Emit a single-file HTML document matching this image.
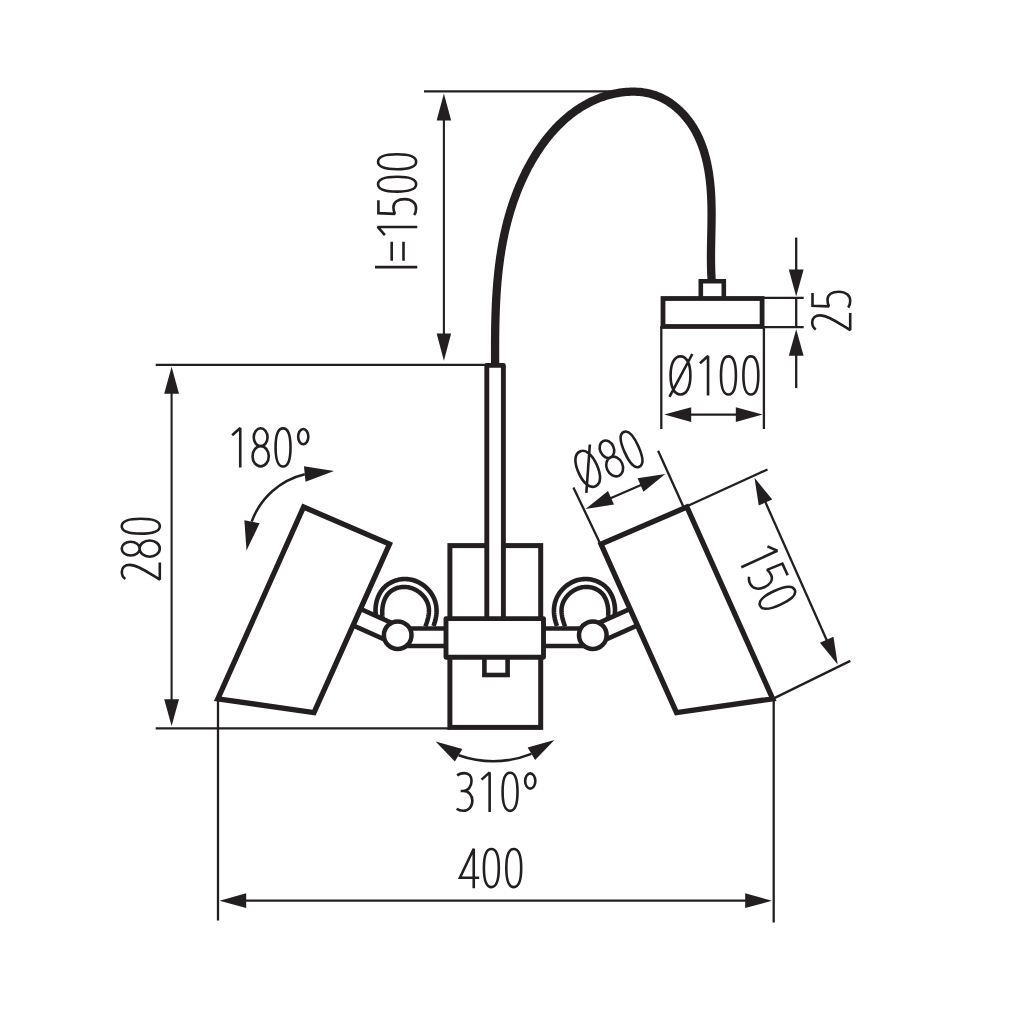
<!DOCTYPE html>
<html><head><meta charset="utf-8"><style>html,body{margin:0;padding:0;background:#fff;width:1010px;height:1010px;overflow:hidden}svg{display:block}</style></head>
<body><svg width="1010" height="1010" viewBox="0 0 1010 1010"><g stroke="#231f20" fill="none"><line x1="424" y1="91.4" x2="612" y2="91.4" stroke-width="2.3" stroke-linecap="butt"/><line x1="443.9" y1="100" x2="443.9" y2="355" stroke-width="2.1" stroke-linecap="butt"/><path d="M443.9 93.4L451.15 120.6L436.65 120.6Z" fill="#231f20" stroke="none"/><path d="M443.9 360.8L436.65 333.6L451.15 333.6Z" fill="#231f20" stroke="none"/><g transform="translate(417.3 271.55) rotate(-90)" fill="none" stroke-width="2.6" stroke-linejoin="miter" stroke-miterlimit="2"><path transform="translate(0 0)" d="M4.45 0L4.45 -42.3"/><path transform="translate(9 0)" d="M1.85 -25.6L20.85 -25.6M1.85 -13.8L20.85 -13.8"/><path transform="translate(31.4 0)" d="M5.1 -32.4L13.2 -39.6L13.2 0"/><path transform="translate(53.8 0)" d="M17.4 -38.9L4.6 -38.9L3.9 -22.4C5.8 -23.4 8 -23.9 10.4 -23.9C15.6 -23.9 18.6 -19.3 18.6 -12.6C18.6 -5.5 14.6 -1.2 9.6 -1.2C6.8 -1.2 4.3 -2 2.7 -3.2"/><path transform="translate(76.2 0)" d="M3.75 -20.2C3.75 -32.39 6.43 -39.25 11.2 -39.25C15.97 -39.25 18.65 -32.39 18.65 -20.2C18.65 -8.01 15.97 -1.15 11.2 -1.15C6.43 -1.15 3.75 -8.01 3.75 -20.2Z"/><path transform="translate(98.6 0)" d="M3.75 -20.2C3.75 -32.39 6.43 -39.25 11.2 -39.25C15.97 -39.25 18.65 -32.39 18.65 -20.2C18.65 -8.01 15.97 -1.15 11.2 -1.15C6.43 -1.15 3.75 -8.01 3.75 -20.2Z"/></g><line x1="155.7" y1="364.8" x2="488" y2="364.8" stroke-width="2.3" stroke-linecap="butt"/><line x1="155.7" y1="728.4" x2="450" y2="728.4" stroke-width="2.3" stroke-linecap="butt"/><line x1="171.6" y1="380" x2="171.6" y2="712" stroke-width="2.1" stroke-linecap="butt"/><path d="M171.6 366.7L179 393.8L164.2 393.8Z" fill="#231f20" stroke="none"/><path d="M171.6 726L164.2 699.3L179 699.3Z" fill="#231f20" stroke="none"/><g transform="translate(161 582.2) rotate(-90)" fill="none" stroke-width="2.6" stroke-linejoin="miter" stroke-miterlimit="2"><path transform="translate(0 0)" d="M3.2 -35.6C4.6 -37.9 7.3 -39.2 10.4 -39.2C14.7 -39.2 17.3 -36 17.3 -31.4C17.3 -24 11.5 -16 2.6 -1.2L19.8 -1.2"/><path transform="translate(22.4 0)" d="M4.3 -30.3C4.3 -35.27 7.39 -39.3 11.2 -39.3C15.01 -39.3 18.1 -35.27 18.1 -30.3C18.1 -25.33 15.01 -21.3 11.2 -21.3C7.39 -21.3 4.3 -25.33 4.3 -30.3ZM3.1 -11.35C3.1 -16.96 6.73 -21.5 11.2 -21.5C15.67 -21.5 19.3 -16.96 19.3 -11.35C19.3 -5.74 15.67 -1.2 11.2 -1.2C6.73 -1.2 3.1 -5.74 3.1 -11.35Z"/><path transform="translate(44.8 0)" d="M3.75 -20.2C3.75 -32.39 6.43 -39.25 11.2 -39.25C15.97 -39.25 18.65 -32.39 18.65 -20.2C18.65 -8.01 15.97 -1.15 11.2 -1.15C6.43 -1.15 3.75 -8.01 3.75 -20.2Z"/></g><line x1="218" y1="699" x2="218" y2="920.5" stroke-width="2.3" stroke-linecap="butt"/><line x1="773.7" y1="699" x2="773.7" y2="922.5" stroke-width="2.3" stroke-linecap="butt"/><line x1="235" y1="900.7" x2="757" y2="900.7" stroke-width="2.3" stroke-linecap="butt"/><path d="M219.5 900.7L246.2 893.3L246.2 908.1Z" fill="#231f20" stroke="none"/><path d="M771.9 900.7L745.2 908.1L745.2 893.3Z" fill="#231f20" stroke="none"/><g transform="translate(457.75 888.3)" fill="none" stroke-width="2.6" stroke-linejoin="miter" stroke-miterlimit="2"><path transform="translate(0 0)" d="M16 0L16 -39.6L2.2 -10.5L21.4 -10.5"/><path transform="translate(22.4 0)" d="M3.75 -20.2C3.75 -32.39 6.43 -39.25 11.2 -39.25C15.97 -39.25 18.65 -32.39 18.65 -20.2C18.65 -8.01 15.97 -1.15 11.2 -1.15C6.43 -1.15 3.75 -8.01 3.75 -20.2Z"/><path transform="translate(44.8 0)" d="M3.75 -20.2C3.75 -32.39 6.43 -39.25 11.2 -39.25C15.97 -39.25 18.65 -32.39 18.65 -20.2C18.65 -8.01 15.97 -1.15 11.2 -1.15C6.43 -1.15 3.75 -8.01 3.75 -20.2Z"/></g><path d="M495.14 367.09L495.13 364.87L495.12 362.65L495.10 360.43L495.10 358.21L495.09 355.99L495.08 353.77L495.08 351.55L495.08 349.33L495.08 347.11L495.08 344.89L495.09 342.67L495.10 340.45L495.12 338.23L495.14 336.00L495.16 333.78L495.18 331.56L495.22 329.34L495.25 327.12L495.29 324.91L495.34 322.69L495.39 320.47L495.45 318.25L495.51 316.04L495.58 313.82L495.66 311.61L495.74 309.39L495.83 307.18L495.93 304.97L496.03 302.76L496.14 300.55L496.26 298.34L496.39 296.13L496.53 293.92L496.67 291.72L496.82 289.52L496.98 287.32L497.16 285.12L497.34 282.92L497.53 280.72L497.73 278.53L497.94 276.33L498.16 274.14L498.39 271.95L498.63 269.77L498.89 267.58L499.15 265.40L499.43 263.22L499.72 261.04L500.02 258.86L500.33 256.69L500.66 254.52L500.99 252.35L501.35 250.18L501.71 248.02L502.09 245.86L502.48 243.70L502.88 241.54L503.30 239.39L503.74 237.24L504.19 235.10L504.65 232.95L505.13 230.81L505.62 228.67L506.13 226.54L506.66 224.41L507.20 222.28L507.76 220.16L508.33 218.04L508.92 215.92L509.53 213.81L510.15 211.70L510.80 209.59L511.46 207.49L512.14 205.39L512.83 203.30L513.55 201.21L514.28 199.12L515.03 197.04L515.80 194.96L516.59 192.88L517.40 190.81L518.23 188.75L519.08 186.69L519.96 184.63L520.85 182.58L521.76 180.53L522.69 178.49L523.64 176.46L524.61 174.43L525.61 172.41L526.62 170.40L527.66 168.40L528.71 166.41L529.79 164.44L530.89 162.47L532.01 160.51L533.15 158.57L534.31 156.64L535.49 154.73L536.69 152.83L537.91 150.94L539.16 149.08L540.42 147.23L541.71 145.39L543.02 143.58L544.35 141.78L545.70 140.01L547.07 138.25L548.46 136.52L549.88 134.81L551.31 133.12L552.77 131.45L554.25 129.81L555.75 128.19L557.27 126.59L558.82 125.03L560.38 123.49L561.97 121.97L563.58 120.49L565.21 119.03L566.86 117.60L568.54 116.21L570.23 114.84L571.95 113.50L573.69 112.20L575.46 110.93L577.24 109.69L579.05 108.49L580.88 107.32L582.73 106.19L584.60 105.09L586.50 104.03L588.41 103.01L590.35 102.03L592.32 101.08L594.30 100.18L596.31 99.31L598.34 98.49L600.39 97.71L602.46 96.97L604.56 96.27L606.68 95.62L608.82 95.01L610.98 94.45L613.15 93.93L615.34 93.47L617.54 93.05L619.75 92.69L621.96 92.38L624.18 92.13L626.40 91.93L628.63 91.79L630.85 91.70L633.07 91.68L635.28 91.72L637.49 91.82L639.68 91.98L641.86 92.21L644.03 92.50L646.18 92.87L648.32 93.30L650.43 93.80L652.52 94.38L654.58 95.03L656.61 95.75L658.62 96.54L660.60 97.41L662.55 98.34L664.46 99.35L666.35 100.41L668.20 101.54L670.02 102.74L671.80 103.99L673.55 105.29L675.26 106.65L676.94 108.07L678.58 109.54L680.18 111.05L681.74 112.61L683.26 114.22L684.73 115.87L686.17 117.56L687.57 119.29L688.92 121.05L690.22 122.85L691.49 124.69L692.70 126.55L693.87 128.44L694.99 130.36L696.07 132.31L697.09 134.28L698.08 136.27L699.02 138.28L699.91 140.32L700.76 142.37L701.57 144.45L702.35 146.54L703.08 148.64L703.77 150.77L704.43 152.91L705.05 155.06L705.63 157.22L706.18 159.39L706.69 161.58L707.18 163.77L707.63 165.97L708.05 168.18L708.44 170.39L708.81 172.61L709.14 174.83L709.45 177.06L709.73 179.28L709.99 181.51L710.23 183.73L710.44 185.95L710.63 188.18L710.80 190.39L710.95 192.61L711.08 194.82L711.20 197.03L711.29 199.24L711.37 201.45L711.44 203.66L711.49 205.86L711.53 208.07L711.55 210.27L711.57 212.47L711.57 214.67L711.57 216.87L711.56 219.07L711.54 221.26L711.51 223.46L711.48 225.66L711.44 227.85L711.40 230.05L711.36 232.24L711.31 234.44L711.27 236.63L711.22 238.83L711.18 241.02L711.13 243.22L711.10 245.41L711.06 247.61L711.03 249.81L711.01 252.01L710.99 254.21L710.98 256.41L710.98 258.61L710.99 260.81L711.01 263.01L711.05 265.22L711.09 267.43L711.15 269.63L711.22 271.85L711.31 274.06L711.42 276.27L711.54 278.49L711.68 280.71L711.84 282.93" stroke-width="8.3" stroke-linecap="butt" stroke-linejoin="round"/><path d="M700.8 298.5V281.3H723.8V298.5" stroke-width="4.6" fill="#fff"/><rect x="663" y="298.5" width="99.1" height="28" stroke-width="4.8" fill="#fff"/><line x1="661.3" y1="326" x2="661.3" y2="429" stroke-width="2.3" stroke-linecap="butt"/><line x1="763.9" y1="326" x2="763.9" y2="429" stroke-width="2.3" stroke-linecap="butt"/><line x1="680" y1="414.6" x2="746" y2="414.6" stroke-width="2.3" stroke-linecap="butt"/><path d="M664.2 414.6L691.2 407.2L691.2 422Z" fill="#231f20" stroke="none"/><path d="M762.6 414.6L735.8 422L735.8 407.2Z" fill="#231f20" stroke="none"/><g transform="translate(668.85 395.6)" fill="none" stroke-width="2.6" stroke-linejoin="miter" stroke-miterlimit="2"><path transform="translate(0 0)" d="M1.75 -20.2C1.75 -32.01 5.51 -39.25 11.65 -39.25C17.79 -39.25 21.55 -32.01 21.55 -20.2C21.55 -8.39 17.79 -1.15 11.65 -1.15C5.51 -1.15 1.75 -8.39 1.75 -20.2ZM0.6 1.2L23.5 -41.6"/><path transform="translate(26 0)" d="M5.1 -32.4L13.2 -39.6L13.2 0"/><path transform="translate(48.4 0)" d="M3.75 -20.2C3.75 -32.39 6.43 -39.25 11.2 -39.25C15.97 -39.25 18.65 -32.39 18.65 -20.2C18.65 -8.01 15.97 -1.15 11.2 -1.15C6.43 -1.15 3.75 -8.01 3.75 -20.2Z"/><path transform="translate(70.8 0)" d="M3.75 -20.2C3.75 -32.39 6.43 -39.25 11.2 -39.25C15.97 -39.25 18.65 -32.39 18.65 -20.2C18.65 -8.01 15.97 -1.15 11.2 -1.15C6.43 -1.15 3.75 -8.01 3.75 -20.2Z"/></g><line x1="762" y1="297.8" x2="803.7" y2="297.8" stroke-width="2.3" stroke-linecap="butt"/><line x1="762" y1="327.2" x2="803.7" y2="327.2" stroke-width="2.3" stroke-linecap="butt"/><line x1="796.2" y1="237.6" x2="796.2" y2="280" stroke-width="2.3" stroke-linecap="butt"/><line x1="796.2" y1="340" x2="796.2" y2="388.1" stroke-width="2.3" stroke-linecap="butt"/><line x1="796.2" y1="297" x2="796.2" y2="328" stroke-width="2.3" stroke-linecap="butt"/><path d="M796.2 296.4L788.8 269.5L803.6 269.5Z" fill="#231f20" stroke="none"/><path d="M796.2 329.2L803.6 355.8L788.8 355.8Z" fill="#231f20" stroke="none"/><g transform="translate(851.4 332.7) rotate(-90)" fill="none" stroke-width="2.6" stroke-linejoin="miter" stroke-miterlimit="2"><path transform="translate(0 0)" d="M3.2 -35.6C4.6 -37.9 7.3 -39.2 10.4 -39.2C14.7 -39.2 17.3 -36 17.3 -31.4C17.3 -24 11.5 -16 2.6 -1.2L19.8 -1.2"/><path transform="translate(22.4 0)" d="M17.4 -38.9L4.6 -38.9L3.9 -22.4C5.8 -23.4 8 -23.9 10.4 -23.9C15.6 -23.9 18.6 -19.3 18.6 -12.6C18.6 -5.5 14.6 -1.2 9.6 -1.2C6.8 -1.2 4.3 -2 2.7 -3.2"/></g><rect x="449.9" y="545.6" width="90.8" height="181.8" stroke-width="5" fill="#fff"/><rect x="486.8" y="365.4" width="16.6" height="255" stroke-width="4.9" fill="#fff" stroke-linejoin="round"/></g><g stroke="#231f20" fill="none"><path d="M375.89 615.84L375.70 614.34L375.57 612.82L375.51 611.30L375.50 609.76L375.57 608.22L375.69 606.68L375.88 605.15L376.13 603.63L376.45 602.12L376.82 600.63L377.27 599.15L377.77 597.71L378.34 596.30L378.97 594.92L379.66 593.58L380.41 592.28L381.23 591.03L382.11 589.83L383.05 588.69L384.06 587.61L385.12 586.58L386.24 585.62L387.40 584.72L388.62 583.89L389.88 583.11L391.17 582.41L392.50 581.76L393.87 581.19L395.26 580.68L396.68 580.23L398.12 579.86L399.58 579.55L401.05 579.32L402.53 579.16L404.01 579.06L405.50 579.04L406.99 579.10L408.47 579.23L409.95 579.43L411.41 579.71L412.86 580.07L414.29 580.50L415.69 581.00L417.08 581.57L418.43 582.20L419.76 582.90L421.06 583.67L422.32 584.49L423.55 585.37L424.74 586.30L425.88 587.29L426.99 588.32L428.04 589.40L429.04 590.53L430.00 591.70L430.89 592.91L431.73 594.15L432.51 595.43L433.23 596.75L433.88 598.09L434.46 599.46L434.97 600.86L435.41 602.27L435.78 603.71L436.07 605.17L436.29 606.64L436.44 608.13L436.52 609.62L436.54 611.12L436.49 612.63L436.38 614.14L436.21 615.65L435.98 617.15L435.69 618.66L435.35 620.15L434.96 621.63L434.51 623.10L434.02 624.56L433.47 626.00" stroke-width="4.6" stroke-linejoin="round"/><path d="M382.75 618.83L382.57 617.66L382.42 616.45L382.31 615.22L382.24 613.97L382.21 612.70L382.23 611.42L382.28 610.13L382.38 608.84L382.53 607.55L382.72 606.27L382.96 604.99L383.24 603.73L383.58 602.49L383.96 601.27L384.40 600.08L384.89 598.92L385.44 597.79L386.03 596.71L386.69 595.67L387.40 594.68L388.17 593.75L389.00 592.87L389.89 592.05L390.82 591.29L391.80 590.59L392.83 589.95L393.89 589.37L394.99 588.85L396.12 588.39L397.27 587.99L398.45 587.66L399.65 587.39L400.87 587.18L402.10 587.04L403.34 586.96L404.58 586.95L405.83 587.00L407.07 587.12L408.30 587.31L409.53 587.56L410.74 587.88L411.93 588.26L413.11 588.70L414.27 589.20L415.40 589.76L416.51 590.37L417.59 591.03L418.63 591.74L419.65 592.50L420.62 593.30L421.55 594.14L422.45 595.03L423.29 595.95L424.09 596.91L424.84 597.90L425.53 598.93L426.17 599.99L426.75 601.07L427.27 602.18L427.72 603.31L428.10 604.47L428.42 605.64L428.66 606.83L428.83 608.03L428.94 609.25L428.97 610.48L428.95 611.71L428.87 612.96L428.74 614.20L428.57 615.45L428.34 616.70L428.08 617.95L427.78 619.20L427.44 620.44L427.08 621.67L426.69 622.89L426.28 624.10L425.86 625.30L425.42 626.48" stroke-width="4.5" stroke-linejoin="round"/><line x1="360.4" y1="608.93" x2="397.7" y2="625.64" stroke-width="4.8"/><line x1="353.04" y1="625.36" x2="397.7" y2="645.36" stroke-width="4.8"/><line x1="397.7" y1="628.4" x2="447" y2="628.4" stroke-width="4.5"/><line x1="397.7" y1="646" x2="447" y2="646" stroke-width="4.5"/><circle cx="397.7" cy="635.2" r="13.8" stroke-width="4.5" fill="#fff"/><path d="M303.6 507L389.5 544L314 712.5L217.8 698.8Z" stroke-width="5.3" stroke-linejoin="miter" fill="none"/></g><g stroke="#231f20" fill="none" transform="translate(990.5 0) scale(-1 1)"><path d="M375.89 615.84L375.70 614.34L375.57 612.82L375.51 611.30L375.50 609.76L375.57 608.22L375.69 606.68L375.88 605.15L376.13 603.63L376.45 602.12L376.82 600.63L377.27 599.15L377.77 597.71L378.34 596.30L378.97 594.92L379.66 593.58L380.41 592.28L381.23 591.03L382.11 589.83L383.05 588.69L384.06 587.61L385.12 586.58L386.24 585.62L387.40 584.72L388.62 583.89L389.88 583.11L391.17 582.41L392.50 581.76L393.87 581.19L395.26 580.68L396.68 580.23L398.12 579.86L399.58 579.55L401.05 579.32L402.53 579.16L404.01 579.06L405.50 579.04L406.99 579.10L408.47 579.23L409.95 579.43L411.41 579.71L412.86 580.07L414.29 580.50L415.69 581.00L417.08 581.57L418.43 582.20L419.76 582.90L421.06 583.67L422.32 584.49L423.55 585.37L424.74 586.30L425.88 587.29L426.99 588.32L428.04 589.40L429.04 590.53L430.00 591.70L430.89 592.91L431.73 594.15L432.51 595.43L433.23 596.75L433.88 598.09L434.46 599.46L434.97 600.86L435.41 602.27L435.78 603.71L436.07 605.17L436.29 606.64L436.44 608.13L436.52 609.62L436.54 611.12L436.49 612.63L436.38 614.14L436.21 615.65L435.98 617.15L435.69 618.66L435.35 620.15L434.96 621.63L434.51 623.10L434.02 624.56L433.47 626.00" stroke-width="4.6" stroke-linejoin="round"/><path d="M382.75 618.83L382.57 617.66L382.42 616.45L382.31 615.22L382.24 613.97L382.21 612.70L382.23 611.42L382.28 610.13L382.38 608.84L382.53 607.55L382.72 606.27L382.96 604.99L383.24 603.73L383.58 602.49L383.96 601.27L384.40 600.08L384.89 598.92L385.44 597.79L386.03 596.71L386.69 595.67L387.40 594.68L388.17 593.75L389.00 592.87L389.89 592.05L390.82 591.29L391.80 590.59L392.83 589.95L393.89 589.37L394.99 588.85L396.12 588.39L397.27 587.99L398.45 587.66L399.65 587.39L400.87 587.18L402.10 587.04L403.34 586.96L404.58 586.95L405.83 587.00L407.07 587.12L408.30 587.31L409.53 587.56L410.74 587.88L411.93 588.26L413.11 588.70L414.27 589.20L415.40 589.76L416.51 590.37L417.59 591.03L418.63 591.74L419.65 592.50L420.62 593.30L421.55 594.14L422.45 595.03L423.29 595.95L424.09 596.91L424.84 597.90L425.53 598.93L426.17 599.99L426.75 601.07L427.27 602.18L427.72 603.31L428.10 604.47L428.42 605.64L428.66 606.83L428.83 608.03L428.94 609.25L428.97 610.48L428.95 611.71L428.87 612.96L428.74 614.20L428.57 615.45L428.34 616.70L428.08 617.95L427.78 619.20L427.44 620.44L427.08 621.67L426.69 622.89L426.28 624.10L425.86 625.30L425.42 626.48" stroke-width="4.5" stroke-linejoin="round"/><line x1="360.4" y1="608.93" x2="397.7" y2="625.64" stroke-width="4.8"/><line x1="353.04" y1="625.36" x2="397.7" y2="645.36" stroke-width="4.8"/><line x1="397.7" y1="628.4" x2="447" y2="628.4" stroke-width="4.5"/><line x1="397.7" y1="646" x2="447" y2="646" stroke-width="4.5"/><circle cx="397.7" cy="635.2" r="13.8" stroke-width="4.5" fill="#fff"/><path d="M303.6 507L389.5 544L314 712.5L217.8 698.8Z" stroke-width="5.3" stroke-linejoin="miter" fill="none"/></g><g stroke="#231f20"><rect x="484.4" y="645" width="23.2" height="30" stroke-width="4.6" fill="#fff"/><rect x="446" y="618.6" width="97.5" height="38.7" stroke-width="4.9" fill="#fff" stroke-linejoin="round"/></g><g stroke="#231f20" fill="none"><path d="M251.69 521.64A75.0 75.0 0 0 1 304.81 474.24" stroke-width="2.5"/><path d="M246.5 550.5L244.39 520.29L259.61 523.21Z" fill="#231f20" stroke="none"/><path d="M334 471L305.54 481.71L303.96 466.29Z" fill="#231f20" stroke="none"/><g transform="translate(227.05 467.6)" fill="none" stroke-width="2.6" stroke-linejoin="miter" stroke-miterlimit="2"><path transform="translate(0 0)" d="M5.1 -32.4L13.2 -39.6L13.2 0"/><path transform="translate(22.4 0)" d="M4.3 -30.3C4.3 -35.27 7.39 -39.3 11.2 -39.3C15.01 -39.3 18.1 -35.27 18.1 -30.3C18.1 -25.33 15.01 -21.3 11.2 -21.3C7.39 -21.3 4.3 -25.33 4.3 -30.3ZM3.1 -11.35C3.1 -16.96 6.73 -21.5 11.2 -21.5C15.67 -21.5 19.3 -16.96 19.3 -11.35C19.3 -5.74 15.67 -1.2 11.2 -1.2C6.73 -1.2 3.1 -5.74 3.1 -11.35Z"/><path transform="translate(44.8 0)" d="M3.75 -20.2C3.75 -32.39 6.43 -39.25 11.2 -39.25C15.97 -39.25 18.65 -32.39 18.65 -20.2C18.65 -8.01 15.97 -1.15 11.2 -1.15C6.43 -1.15 3.75 -8.01 3.75 -20.2Z"/><path transform="translate(67.2 0)" d="M3.9 -31C3.9 -35.2 6.18 -38.6 9 -38.6C11.82 -38.6 14.1 -35.2 14.1 -31C14.1 -26.8 11.82 -23.4 9 -23.4C6.18 -23.4 3.9 -26.8 3.9 -31Z"/></g><path d="M458.6 755.25A104.4 104.4 0 0 0 531.4 753.8" stroke-width="2.5"/><path d="M435.6 741.5L462.32 749.03L454.88 761.47Z" fill="#231f20" stroke="none"/><path d="M554.4 740L535.13 760.02L527.67 747.58Z" fill="#231f20" stroke="none"/><g transform="translate(454.05 812)" fill="none" stroke-width="2.6" stroke-linejoin="miter" stroke-miterlimit="2"><path transform="translate(0 0)" d="M3.2 -36.4C5 -38.2 7.5 -38.9 10.3 -38.9C14.8 -38.9 17.5 -35.8 17.5 -31.2C17.5 -25.2 13.8 -21 9.2 -21L6.6 -21M9.2 -21C14.8 -21 18.3 -16.8 18.3 -11.2C18.3 -5 14.3 -1.2 9.3 -1.2C6.4 -1.2 4 -2.1 2.6 -3.2"/><path transform="translate(22.4 0)" d="M5.1 -32.4L13.2 -39.6L13.2 0"/><path transform="translate(44.8 0)" d="M3.75 -20.2C3.75 -32.39 6.43 -39.25 11.2 -39.25C15.97 -39.25 18.65 -32.39 18.65 -20.2C18.65 -8.01 15.97 -1.15 11.2 -1.15C6.43 -1.15 3.75 -8.01 3.75 -20.2Z"/><path transform="translate(67.2 0)" d="M3.9 -31C3.9 -35.2 6.18 -38.6 9 -38.6C11.82 -38.6 14.1 -35.2 14.1 -31C14.1 -26.8 11.82 -23.4 9 -23.4C6.18 -23.4 3.9 -26.8 3.9 -31Z"/></g><line x1="600.6" y1="544.5" x2="573.4" y2="487.4" stroke-width="2.3" stroke-linecap="butt"/><line x1="683.3" y1="506.5" x2="658.1" y2="450.7" stroke-width="2.3" stroke-linecap="butt"/><line x1="595" y1="505" x2="656" y2="478.5" stroke-width="2.3" stroke-linecap="butt"/><path d="M585.6 509L608.01 491.03L613.99 504.57Z" fill="#231f20" stroke="none"/><path d="M665.3 474.1L643.48 491.77L637.52 478.23Z" fill="#231f20" stroke="none"/><g transform="translate(585.3 492.04) rotate(-24)" fill="none" stroke-width="2.6" stroke-linejoin="miter" stroke-miterlimit="2"><path transform="translate(0 0)" d="M1.75 -20.2C1.75 -32.01 5.51 -39.25 11.65 -39.25C17.79 -39.25 21.55 -32.01 21.55 -20.2C21.55 -8.39 17.79 -1.15 11.65 -1.15C5.51 -1.15 1.75 -8.39 1.75 -20.2ZM0.6 1.2L23.5 -41.6"/><path transform="translate(26 0)" d="M4.3 -30.3C4.3 -35.27 7.39 -39.3 11.2 -39.3C15.01 -39.3 18.1 -35.27 18.1 -30.3C18.1 -25.33 15.01 -21.3 11.2 -21.3C7.39 -21.3 4.3 -25.33 4.3 -30.3ZM3.1 -11.35C3.1 -16.96 6.73 -21.5 11.2 -21.5C15.67 -21.5 19.3 -16.96 19.3 -11.35C19.3 -5.74 15.67 -1.2 11.2 -1.2C6.73 -1.2 3.1 -5.74 3.1 -11.35Z"/><path transform="translate(48.4 0)" d="M3.75 -20.2C3.75 -32.39 6.43 -39.25 11.2 -39.25C15.97 -39.25 18.65 -32.39 18.65 -20.2C18.65 -8.01 15.97 -1.15 11.2 -1.15C6.43 -1.15 3.75 -8.01 3.75 -20.2Z"/></g><line x1="687.5" y1="506" x2="767.5" y2="469.5" stroke-width="2.3" stroke-linecap="butt"/><line x1="773.3" y1="698.6" x2="850.3" y2="660.9" stroke-width="2.3" stroke-linecap="butt"/><line x1="762" y1="494.5" x2="830" y2="647.5" stroke-width="2.3" stroke-linecap="butt"/><path d="M754.5 477.8L772.26 499.49L758.74 505.51Z" fill="#231f20" stroke="none"/><path d="M837.7 664.4L819.94 642.71L833.46 636.69Z" fill="#231f20" stroke="none"/><g transform="translate(735.8 555.2) rotate(65.5)" fill="none" stroke-width="2.6" stroke-linejoin="miter" stroke-miterlimit="2"><path transform="translate(0 0)" d="M5.1 -32.4L13.2 -39.6L13.2 0"/><path transform="translate(22.4 0)" d="M17.4 -38.9L4.6 -38.9L3.9 -22.4C5.8 -23.4 8 -23.9 10.4 -23.9C15.6 -23.9 18.6 -19.3 18.6 -12.6C18.6 -5.5 14.6 -1.2 9.6 -1.2C6.8 -1.2 4.3 -2 2.7 -3.2"/><path transform="translate(44.8 0)" d="M3.75 -20.2C3.75 -32.39 6.43 -39.25 11.2 -39.25C15.97 -39.25 18.65 -32.39 18.65 -20.2C18.65 -8.01 15.97 -1.15 11.2 -1.15C6.43 -1.15 3.75 -8.01 3.75 -20.2Z"/></g></g></svg></body></html>
